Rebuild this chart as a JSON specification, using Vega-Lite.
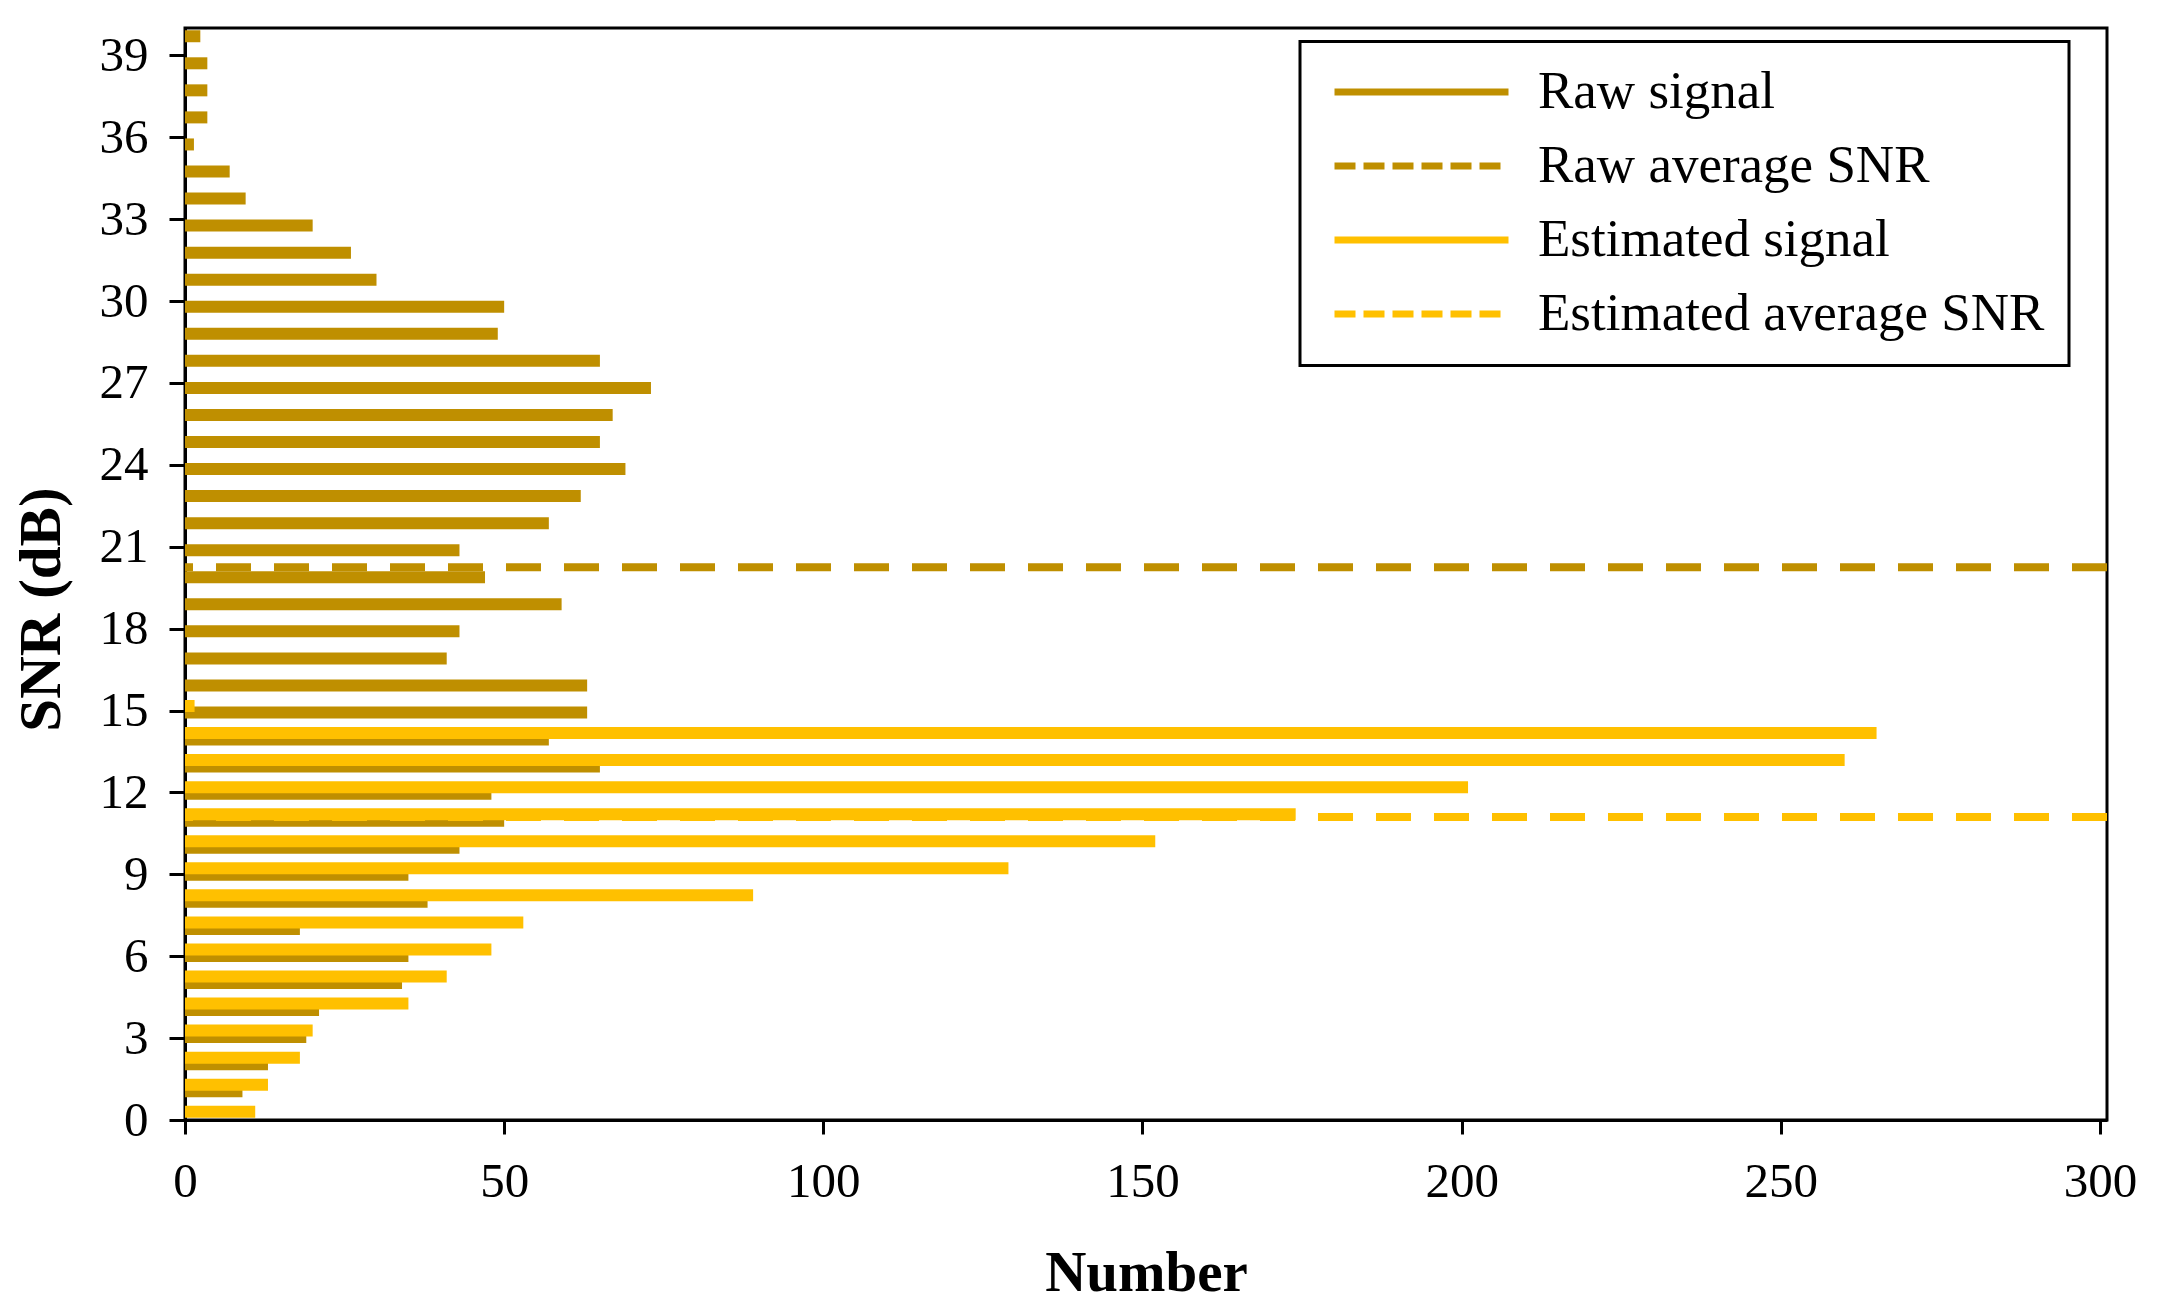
{
  "$schema": "https://vega.github.io/schema/vega-lite/v6.json",
  "width": 1922,
  "height": 1092,
  "autosize": {"type": "none"},
  "padding": {"left": 185, "top": 28, "right": 55, "bottom": 194},
  "background": "white",
  "config": {
    "view": {"stroke": "black", "strokeWidth": 3},
    "font": "Liberation Serif",
    "axis": {
      "domainColor": "black", "domainWidth": 3, "tickColor": "black", "tickWidth": 3,
      "labelColor": "black", "titleColor": "black", "grid": false, "labelFlush": false,
      "labelFont": "Liberation Serif", "titleFont": "Liberation Serif",
      "labelFontSize": 49, "titleFontSize": 57, "titleFontWeight": "bold"
    },
    "axisX": {"tickSize": 14, "labelPadding": 23, "titlePadding": 39},
    "axisY": {"tickSize": 16, "labelPadding": 21, "titlePadding": 28, "titleFontSize": 59, "titleY": 581}
  },
  "datasets": {
    "bars": [
      {"snr": 0, "series": "Raw signal", "count": 0},
      {"snr": 1, "series": "Raw signal", "count": 9},
      {"snr": 2, "series": "Raw signal", "count": 13},
      {"snr": 3, "series": "Raw signal", "count": 19},
      {"snr": 4, "series": "Raw signal", "count": 21},
      {"snr": 5, "series": "Raw signal", "count": 34},
      {"snr": 6, "series": "Raw signal", "count": 35},
      {"snr": 7, "series": "Raw signal", "count": 18},
      {"snr": 8, "series": "Raw signal", "count": 38},
      {"snr": 9, "series": "Raw signal", "count": 35},
      {"snr": 10, "series": "Raw signal", "count": 43},
      {"snr": 11, "series": "Raw signal", "count": 50},
      {"snr": 12, "series": "Raw signal", "count": 48},
      {"snr": 13, "series": "Raw signal", "count": 65},
      {"snr": 14, "series": "Raw signal", "count": 57},
      {"snr": 15, "series": "Raw signal", "count": 63},
      {"snr": 16, "series": "Raw signal", "count": 63},
      {"snr": 17, "series": "Raw signal", "count": 41},
      {"snr": 18, "series": "Raw signal", "count": 43},
      {"snr": 19, "series": "Raw signal", "count": 59},
      {"snr": 20, "series": "Raw signal", "count": 47},
      {"snr": 21, "series": "Raw signal", "count": 43},
      {"snr": 22, "series": "Raw signal", "count": 57},
      {"snr": 23, "series": "Raw signal", "count": 62},
      {"snr": 24, "series": "Raw signal", "count": 69},
      {"snr": 25, "series": "Raw signal", "count": 65},
      {"snr": 26, "series": "Raw signal", "count": 67},
      {"snr": 27, "series": "Raw signal", "count": 73},
      {"snr": 28, "series": "Raw signal", "count": 65},
      {"snr": 29, "series": "Raw signal", "count": 49},
      {"snr": 30, "series": "Raw signal", "count": 50},
      {"snr": 31, "series": "Raw signal", "count": 30},
      {"snr": 32, "series": "Raw signal", "count": 26},
      {"snr": 33, "series": "Raw signal", "count": 20},
      {"snr": 34, "series": "Raw signal", "count": 9.5},
      {"snr": 35, "series": "Raw signal", "count": 7},
      {"snr": 36, "series": "Raw signal", "count": 1.4},
      {"snr": 37, "series": "Raw signal", "count": 3.5},
      {"snr": 38, "series": "Raw signal", "count": 3.5},
      {"snr": 39, "series": "Raw signal", "count": 3.5},
      {"snr": 40, "series": "Raw signal", "count": 2.4},
      {"snr": 0, "series": "Estimated signal", "count": 11},
      {"snr": 1, "series": "Estimated signal", "count": 13},
      {"snr": 2, "series": "Estimated signal", "count": 18},
      {"snr": 3, "series": "Estimated signal", "count": 20},
      {"snr": 4, "series": "Estimated signal", "count": 35},
      {"snr": 5, "series": "Estimated signal", "count": 41},
      {"snr": 6, "series": "Estimated signal", "count": 48},
      {"snr": 7, "series": "Estimated signal", "count": 53},
      {"snr": 8, "series": "Estimated signal", "count": 89},
      {"snr": 9, "series": "Estimated signal", "count": 129},
      {"snr": 10, "series": "Estimated signal", "count": 152},
      {"snr": 11, "series": "Estimated signal", "count": 174},
      {"snr": 12, "series": "Estimated signal", "count": 201},
      {"snr": 13, "series": "Estimated signal", "count": 260},
      {"snr": 14, "series": "Estimated signal", "count": 265},
      {"snr": 15, "series": "Estimated signal", "count": 1.5}
    ],
    "avg": [
      {"series": "Raw average SNR", "snr": 20.25},
      {"series": "Estimated average SNR", "snr": 11.1}
    ]
  },
  "resolve": {"scale": {"y": "independent"}, "axis": {"y": "independent"}},
  "layer": [
    {
      "data": {"name": "bars"},
      "transform": [{"filter": "datum.series === 'Raw signal'"}],
      "mark": {"type": "bar", "orient": "horizontal", "size": 12, "clip": true},
      "encoding": {
        "x": {"field": "count", "type": "quantitative", "title": "Number",
              "scale": {"domain": [0, 301.1], "nice": false},
              "axis": {"values": [0, 50, 100, 150, 200, 250, 300]}},
        "y": {"field": "snr", "type": "quantitative",
              "scale": {"domain": [0.12, 40.12], "nice": false, "zero": false},
              "axis": null},
        "color": {
          "field": "series", "type": "nominal",
          "scale": {"domain": ["Raw signal", "Raw average SNR", "Estimated signal", "Estimated average SNR"],
                    "range": ["#BF8F00", "#BF8F00", "#FFC000", "#FFC000"]},
          "legend": {
            "orient": "none", "legendX": 1115, "legendY": 13.5, "title": null,
            "labelFont": "Liberation Serif", "labelFontSize": 53, "labelColor": "black", "labelLimit": 0,
            "symbolType": "M-5.8,0H5.8", "symbolSize": 900, "symbolStrokeWidth": 7,
            "symbolOffset": 71, "labelOffset": 90, "rowPadding": 20, "padding": 24,
            "strokeColor": "black", "fillColor": "white",
            "encode": {
              "legend": {"update": {"strokeWidth": {"value": 3}}},
              "symbols": {"update": {
                "stroke": {"scale": "color", "field": "value"},
                "fill": {"value": "transparent"},
                "strokeWidth": {"value": 7},
                "strokeDash": [{"test": "indexof(datum.value, 'average') >= 0", "value": [21, 8]}, {"value": [1, 0]}]
              }}
            }
          }
        }
      }
    },
    {
      "data": {"name": "bars"},
      "transform": [{"filter": "datum.series === 'Estimated signal'"}],
      "mark": {"type": "bar", "orient": "horizontal", "size": 12, "clip": true},
      "encoding": {
        "x": {"field": "count", "type": "quantitative"},
        "y": {"field": "snr", "type": "quantitative",
              "scale": {"domain": [-0.12, 39.88], "nice": false, "zero": false},
              "axis": null},
        "color": {"field": "series", "type": "nominal"}
      }
    },
    {
      "data": {"name": "avg"},
      "mark": {"type": "rule", "strokeWidth": 8, "strokeDash": [35, 23]},
      "encoding": {
        "y": {"field": "snr", "type": "quantitative", "title": "SNR (dB)",
              "scale": {"domain": [0, 40], "nice": false, "zero": false},
              "axis": {"values": [0, 3, 6, 9, 12, 15, 18, 21, 24, 27, 30, 33, 36, 39]}},
        "color": {"field": "series", "type": "nominal"}
      }
    }
  ]
}
